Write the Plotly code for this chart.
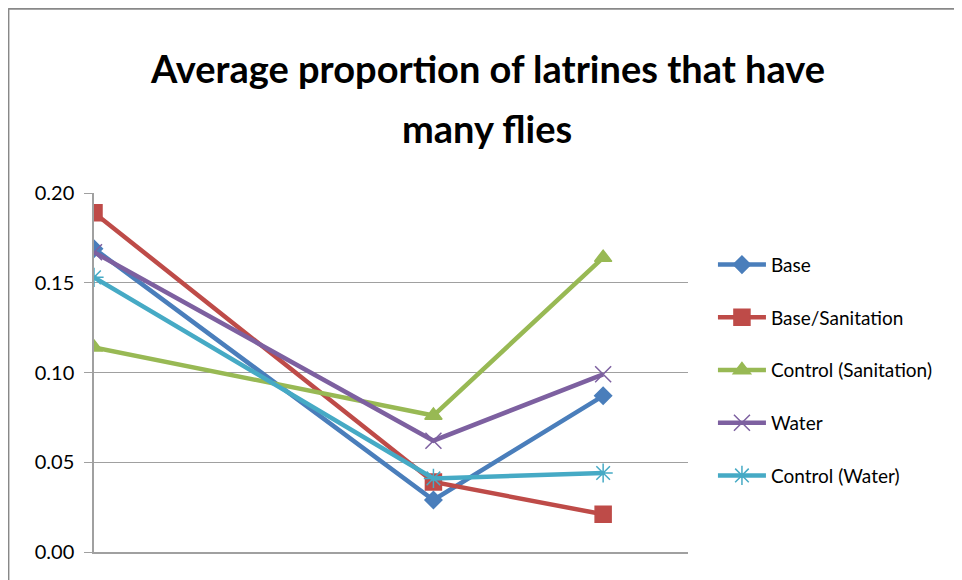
import plotly.graph_objects as go

# Data
x_vals = [0, 2, 3]
series_names = ["Base", "Base/Sanitation", "Control (Sanitation)", "Water", "Control (Water)"]
base = [0.169, 0.029, 0.087]
base_sanitation = [0.189, 0.039, 0.021]
control_sanitation = [0.114, 0.076, 0.164]
water = [0.167, 0.062, 0.099]
control_water = [0.153, 0.041, 0.044]
y_ticks = [0.00, 0.05, 0.10, 0.15, 0.20]

series_values = [base, base_sanitation, control_sanitation, water, control_water]
colors = ["#4A7EBB", "#BE4B48", "#98B954", "#7D60A0", "#46AAC5"]
symbols = ["diamond", "square", "triangle-up", "x-thin-open", "asterisk-open"]
sizes = [13, 16, 15, 16, 16]

FONT = "Lato, Open Sans, sans-serif"

fig = go.Figure()
for i, (name, vals) in enumerate(zip(series_names, series_values)):
    fig.add_trace(go.Scatter(
        x=x_vals, y=vals, name=name, mode="lines+markers",
        legendgroup=str(i),
        line=dict(color=colors[i], width=4.5),
        marker=dict(symbol=symbols[i], size=sizes[i], color=colors[i],
                    line=dict(color=colors[i], width=1.5)),
    ))

fig.add_annotation(text="<b>Average proportion of latrines that have</b>", xref="paper", yref="paper",
                   x=0.662, y=1.348, xanchor="center", yanchor="middle", showarrow=False,
                   font=dict(family=FONT, size=38, color="#000000"))
fig.add_annotation(text="<b>many flies</b>", xref="paper", yref="paper",
                   x=0.662, y=1.181, xanchor="center", yanchor="middle", showarrow=False,
                   font=dict(family=FONT, size=38, color="#000000"))

# outer chart frame (left and top edges)
fig.add_shape(type="line", xref="paper", yref="paper", x0=-0.1445, x1=-0.1445, y0=-0.2, y1=1.514,
              line=dict(color="#888888", width=2.5))
fig.add_shape(type="line", xref="paper", yref="paper", x0=-0.1445, x1=1.65, y0=1.514, y1=1.514,
              line=dict(color="#888888", width=2.5))

fig.update_layout(
    width=962, height=580,
    margin=dict(l=86, r=282, t=185, b=36),
    paper_bgcolor="white", plot_bgcolor="white",
    showlegend=True,
    legend=dict(x=1.042, y=0.853, xanchor="left", yanchor="top",
                font=dict(family=FONT, size=19, color="#000000"),
                itemwidth=48,
                tracegroupgap=25, bgcolor="rgba(0,0,0,0)"),
    font=dict(family=FONT),
)
fig.update_xaxes(range=[0, 3.5], showgrid=False, zeroline=False, showticklabels=False,
                 showline=True, linecolor="#A0A0A0", linewidth=1.5, ticks="")
fig.update_yaxes(range=[0, 0.2], tickvals=y_ticks, tickformat=".2f",
                 showgrid=True, gridcolor="#A0A0A0", gridwidth=1.2, zeroline=False,
                 showline=True, linecolor="#A0A0A0", linewidth=1.5,
                 ticks="outside", ticklen=8, tickcolor="#A0A0A0",
                 ticklabelstandoff=6,
                 tickfont=dict(family=FONT, size=20, color="#000000"))

fig.write_html("out.html")
